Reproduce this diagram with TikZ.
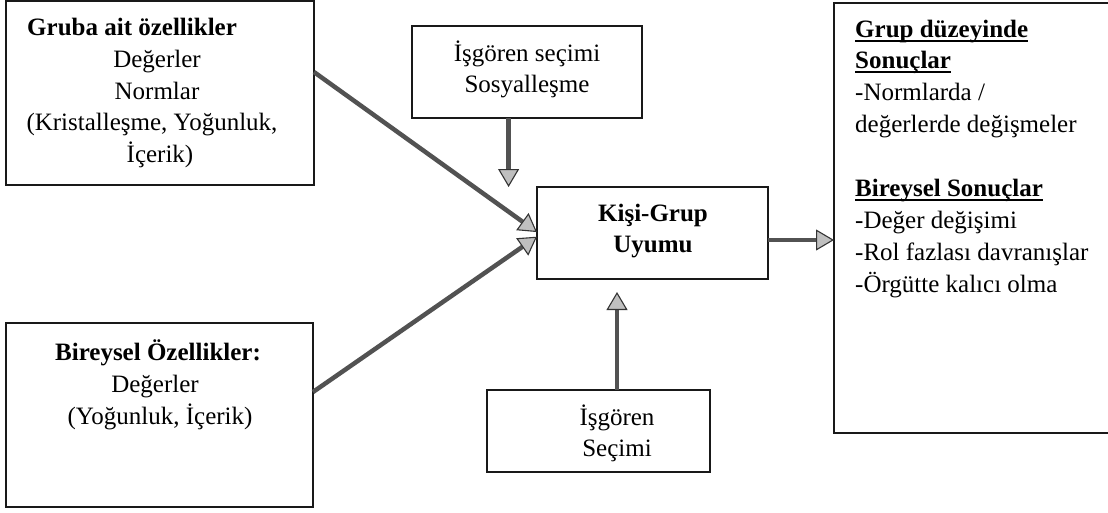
\documentclass[tikz,border=0pt]{standalone}
\usepackage{fontspec}
\setmainfont{Liberation Serif}
\usetikzlibrary{arrows.meta,calc}
% underline set a little below the baseline, crossing the descenders
\newcommand\ulined[1]{\setbox0\hbox{#1}\rlap{\rule[-4.5pt]{\wd0}{1.2pt}}\box0}

\begin{document}
\begin{tikzpicture}[x=1pt,y=-1pt,
  box/.style={draw=black!90, line width=1.1pt, inner sep=0pt, outer sep=0pt, anchor=north west},
  txt/.style={font=\fontsize{25}{30}\selectfont, inner sep=0pt, anchor=base},
  txtl/.style={txt, anchor=base west},
  flow/.style={draw=black!68, line width=4.5pt,
    -{Triangle[width=21pt 0,length=18pt 0,line width=1.1pt,fill=gray!50,color=black!80]}}]

\useasboundingbox (0,0) rectangle (1108,512);
\clip (0,0) rectangle (1108,512);

% boxes
\node[box, minimum width=308pt, minimum height=184pt] (A) at (6,1) {};
\node[box, minimum width=307pt, minimum height=184pt] (B) at (6,323) {};
\node[box, minimum width=230pt, minimum height=92pt]  (C) at (412,26) {};
\node[box, minimum width=231pt, minimum height=92pt]  (D) at (537,187) {};
\node[box, minimum width=290pt, minimum height=430pt] (E) at (834,3) {};
\node[box, minimum width=223pt, minimum height=82pt]  (F) at (487,390) {};

% group characteristics
\node[txtl] (a1) at (27,35) {\bfseries Gruba ait özellikler};
\node[txt]  (a2) at (157,67) {Değerler};
\node[txt]  (a3) at (157,99) {Normlar};
\node[txt]  (a4) at (152,130) {(Kristalleşme, Yoğunluk,};
\node[txt]  (a5) at (160,162) {İçerik)};

% individual characteristics
\node[txt] (b1) at (158,360) {\bfseries Bireysel Özellikler:};
\node[txt] (b2) at (155,392) {Değerler};
\node[txt] (b3) at (160,424) {(Yoğunluk, İçerik)};

% selection and socialisation
\node[txt] (c1) at (527,61) {İşgören seçimi};
\node[txt] (c2) at (527,92) {Sosyalleşme};

% person-group fit
\node[txt] (d1) at (653,221) {\bfseries Kişi-Grup};
\node[txt] (d2) at (653,252) {\bfseries Uyumu};

% outcomes
\node[txtl] (e1) at (855,37)  {\ulined{\bfseries Grup düzeyinde}};
\node[txtl] (e2) at (855,68)  {\ulined{\bfseries Sonuçlar}};
\node[txtl] (e3) at (855,100) {-Normlarda /};
\node[txtl] (e4) at (855,132) {değerlerde değişmeler};
\node[txtl] (e5) at (855,196) {\ulined{\bfseries Bireysel Sonuçlar}};
\node[txtl] (e6) at (855,228) {-Değer değişimi};
\node[txtl] (e7) at (855,260) {-Rol fazlası davranışlar};
\node[txtl] (e8) at (855,292) {-Örgütte kalıcı olma};

% employee selection
\node[txt] (f1) at (617,425) {İşgören};
\node[txt] (f2) at (617,456) {Seçimi};

% connectors
\coordinate (aOut) at ($(A.north east)!0.386!(A.south east)$);
\coordinate (bOut) at ($(B.north east)!0.375!(B.south east)$);
\coordinate (dInA) at ($(D.north west)!0.49!(D.south west)$);
\coordinate (dInB) at ($(D.north west)!0.54!(D.south west)$);
\coordinate (cOut) at ($(C.south west)!0.42!(C.south east)$);
\coordinate (fOut) at ($(F.north west)!0.583!(F.north east)$);
\coordinate (dOut) at ($(D.east)+(0,7)$);

\draw[flow] (aOut) -- (dInA);
\draw[flow] (bOut) -- (dInB);
\draw[flow] (cOut) -- (cOut |- D.north);
\draw[flow] (fOut) -- ($(fOut |- D.south)+(0,13)$);
\draw[flow] (dOut) -- (dOut -| E.west);
\end{tikzpicture}
\end{document}
